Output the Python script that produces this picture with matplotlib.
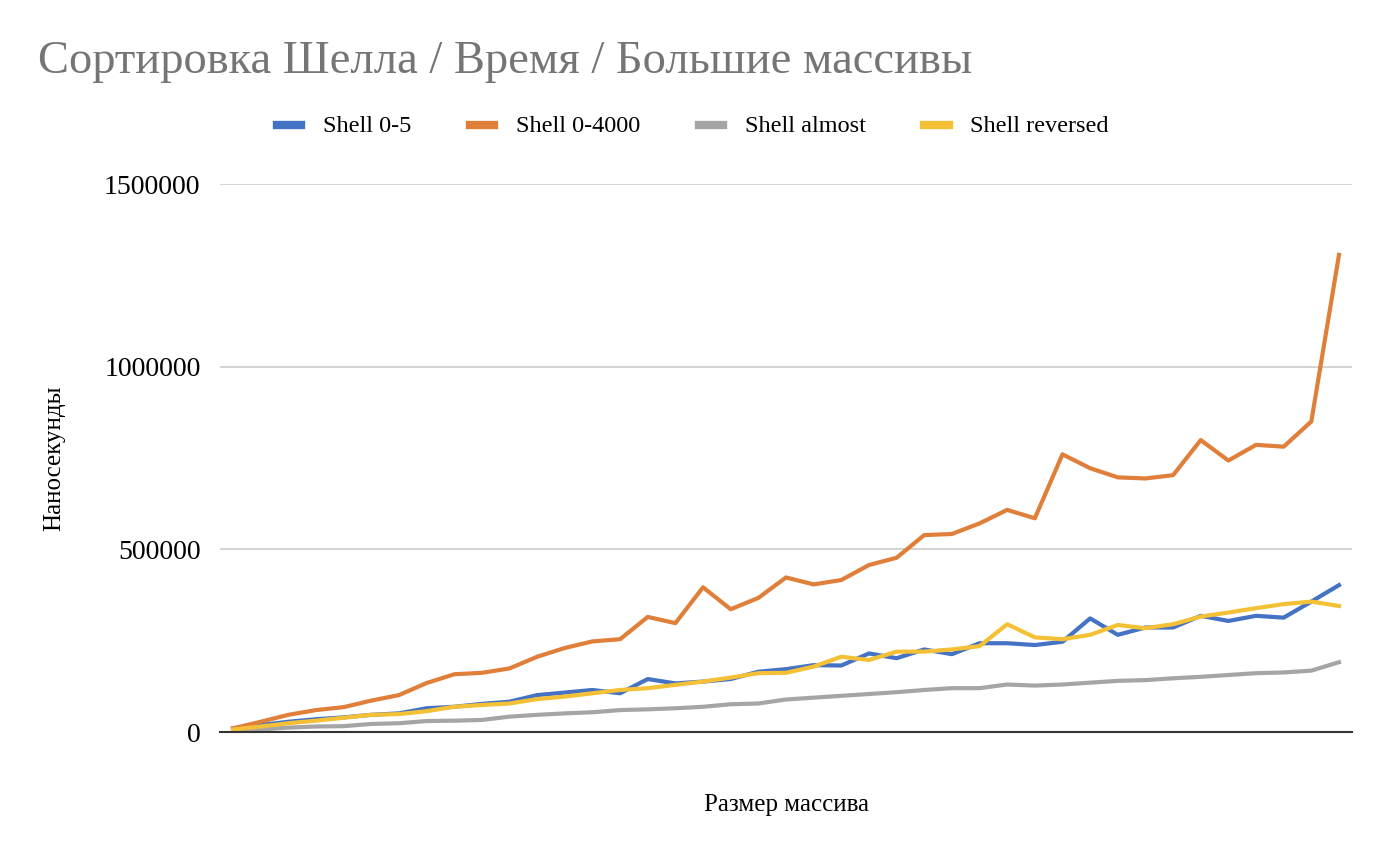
import matplotlib
matplotlib.use("Agg")
import matplotlib.pyplot as plt
import numpy as np

plt.rcParams['font.family'] = ['Liberation Serif', 'DejaVu Serif']

shell_0_5 = [10e3,19e3,28e3,35e3,40e3,47e3,51e3,65e3,69e3,77e3,83e3,101e3,108e3,115e3,106e3,145e3,133e3,138e3,145e3,165e3,172e3,
             183e3,182e3,215e3,202e3,226e3,213e3,243e3,243e3,238e3,247e3,311e3,266e3,286e3,286e3,318e3,304e3,318e3,313e3,357e3,402e3]
shell_0_4000 = [10e3,28e3,47e3,60e3,68e3,86e3,101e3,134e3,158e3,162e3,174e3,206e3,230e3,248e3,254e3,315e3,298e3,396e3,336e3,367e3,423e3,
                404e3,416e3,457e3,477e3,539e3,542e3,571e3,608e3,585e3,760e3,722e3,697e3,694e3,703e3,799e3,743e3,786e3,781e3,850e3,1306e3]
shell_almost = [5e3,7e3,12e3,15e3,16e3,22e3,24e3,30e3,31e3,33e3,42e3,47e3,51e3,54e3,60e3,62e3,65e3,69e3,76e3,78e3,89e3,
                94e3,99e3,104e3,109e3,115e3,120e3,120e3,130e3,127e3,130e3,135e3,140e3,142e3,147e3,151e3,156e3,161e3,163e3,168e3,191e3]
shell_reversed = [7e3,15e3,24e3,31e3,39e3,47e3,49e3,57e3,69e3,74e3,78e3,90e3,97e3,106e3,115e3,120e3,129e3,138e3,149e3,161e3,162e3,
                  179e3,206e3,197e3,220e3,220e3,226e3,235e3,295e3,259e3,254e3,266e3,293e3,284e3,295e3,316e3,327e3,339e3,350e3,357e3,345e3]
series_names = ["Shell 0-5", "Shell 0-4000", "Shell almost", "Shell reversed"]
colors = ["#4472c4", "#e07f3a", "#a5a5a5", "#f4c136"]

fig = plt.figure(figsize=(13.86, 8.52), dpi=100)
ax = fig.add_axes([220/1386, 1-732/852, (1352-220)/1386, (732-184)/852])
x = np.arange(len(shell_0_5))
for data, name, c in zip([shell_0_5, shell_0_4000, shell_almost, shell_reversed], series_names, colors):
    ax.plot(x, data, color=c, lw=3, label=name, solid_joinstyle='round')

n = len(x)
pad = 13/27.6
ax.set_xlim(-pad, n-1+pad)
ax.set_ylim(0, 1500000)
ax.set_yticks([0, 500000, 1000000, 1500000])
ax.set_yticklabels(["0", "500000", "1000000", "1500000"])
ax.set_xticks([])
ax.grid(axis='y', color='#cccccc', lw=1.2)
ax.set_axisbelow(True)
for s in ['top', 'right', 'left']:
    ax.spines[s].set_visible(False)
ax.spines['bottom'].set_color('#333333')
ax.spines['bottom'].set_linewidth(1.5)
ax.tick_params(axis='y', length=0, labelsize=20, pad=14)
ax.set_ylabel("Наносекунды", fontsize=18, labelpad=28)
ax.set_xlabel("Размер массива", fontsize=18, labelpad=45)

fig.text(38/1386, 1-62/852, "Сортировка Шелла / Время / Большие массивы", fontsize=33.5,
         color='#757575', va='center', ha='left')
leg = fig.legend(loc='center', bbox_to_anchor=(693/1386, 1-127/852), ncol=4, frameon=False,
                 fontsize=17.5, handlelength=1.0, handleheight=0.3, columnspacing=2.4, handletextpad=0.9)
for h in leg.get_lines():
    h.set_linewidth(6)

fig.savefig("out.png", dpi=100)
